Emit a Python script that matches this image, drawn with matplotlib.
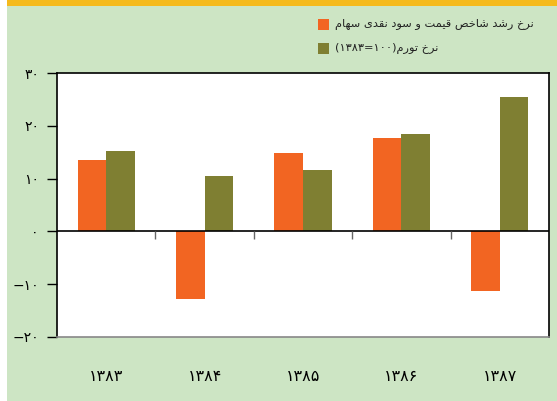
import matplotlib
matplotlib.use("Agg")
import matplotlib.pyplot as plt
from matplotlib.patches import Rectangle
import numpy as np

# data
years = ["۱۳۸۳", "۱۳۸۴", "۱۳۸۵", "۱۳۸۶", "۱۳۸۷"]
stock_growth = [13.6, -12.8, 14.8, 17.6, -11.3]
inflation = [15.2, 10.4, 11.7, 18.4, 25.4]
y_ticks = [-20, -10, 0, 10, 20, 30]
label_stock = "نرخ رشد شاخص قیمت و سود نقدی سهام"
label_infl = "نرخ تورم"
label_infl_base = "(۱۳۸۳=۱۰۰)"

ORANGE = "#F26522"
OLIVE = "#7F7F32"
BG = "#CDE5C4"

# simple arabic shaping (matplotlib has no shaping / bidi)
FORMS = {
    "ا": ("\uFE8D", "\uFE8E", None, None),
    "د": ("\uFEA9", "\uFEAA", None, None),
    "ر": ("\uFEAD", "\uFEAE", None, None),
    "و": ("\uFEED", "\uFEEE", None, None),
    "ن": ("\uFEE5", "\uFEE6", "\uFEE7", "\uFEE8"),
    "خ": ("\uFEA5", "\uFEA6", "\uFEA7", "\uFEA8"),
    "ش": ("\uFEB5", "\uFEB6", "\uFEB7", "\uFEB8"),
    "ص": ("\uFEB9", "\uFEBA", "\uFEBB", "\uFEBC"),
    "ق": ("\uFED5", "\uFED6", "\uFED7", "\uFED8"),
    "ی": ("\uFEEF", "\uFEF0", "\uFEF3", "\uFEF4"),
    "م": ("\uFEE1", "\uFEE2", "\uFEE3", "\uFEE4"),
    "ت": ("\uFE95", "\uFE96", "\uFE97", "\uFE98"),
    "س": ("\uFEB1", "\uFEB2", "\uFEB3", "\uFEB4"),
    "ه": ("\uFEE9", "\uFEEA", "\uFEEB", "\uFEEC"),
}


def shape(text):
    out = []
    for i, c in enumerate(text):
        if c not in FORMS:
            out.append(c)
            continue
        prev = text[i - 1] if i > 0 else ""
        nxt = text[i + 1] if i + 1 < len(text) else ""
        prev_j = prev in FORMS and FORMS[prev][2] is not None
        dual = FORMS[c][2] is not None
        next_j = dual and nxt in FORMS
        iso, fin, ini, med = FORMS[c]
        if prev_j and next_j:
            out.append(med)
        elif prev_j:
            out.append(fin)
        elif next_j:
            out.append(ini)
        else:
            out.append(iso)
    return "".join(out)[::-1]


def fa_num(v):
    digits = "۰۱۲۳۴۵۶۷۸۹"
    s = "".join(digits[int(d)] for d in str(abs(v)))
    return ("\u2212" + s) if v < 0 else s


plt.rcParams["font.family"] = ["DejaVu Sans"]

fig = plt.figure(figsize=(5.57, 4.01), dpi=100, facecolor=BG)
# white strip on the left and yellow band on top
fig.patches.append(Rectangle((0, 0), 7 / 557, 1, transform=fig.transFigure,
                             facecolor="white", edgecolor="none"))
fig.patches.append(Rectangle((7 / 557, 395 / 401), 1, 6 / 401, transform=fig.transFigure,
                             facecolor="#F5BA1D", edgecolor="none"))

ax = fig.add_axes([57 / 557, 64 / 401, 492 / 557, 264 / 401])
x = np.arange(len(years))
w = 0.29
ax.bar(x - w / 2, stock_growth, w, color=ORANGE)
ax.bar(x + w / 2, inflation, w, color=OLIVE)
ax.axhline(0, color="black", lw=1.2)

# separator ticks between groups, hanging from the zero line
ax.plot(x[:-1] + 0.5, np.zeros(len(x) - 1), ls="none", marker=3,
        markersize=6, color="#666666", mew=1)

ax.set_xlim(-0.5, len(years) - 0.5)
ax.set_ylim(-20, 30)
ax.set_yticks(y_ticks)
ax.set_yticklabels([fa_num(v) for v in y_ticks], fontsize=10)
ax.set_xticks(x)
ax.set_xticklabels(years, fontsize=11.5)
ax.tick_params(axis="x", length=0, pad=23)
ax.tick_params(axis="y", length=7, width=1, pad=6, direction="out")

for s in ["left", "top", "right"]:
    ax.spines[s].set_color("black")
    ax.spines[s].set_linewidth(1.2)
ax.spines["bottom"].set_color("#888888")
ax.spines["bottom"].set_linewidth(1.2)

# legend drawn by hand (right-to-left text)
fig.patches.append(Rectangle((318 / 557, 1 - 30 / 401), 11 / 557, 11 / 401,
                             transform=fig.transFigure, facecolor=ORANGE))
fig.patches.append(Rectangle((318 / 557, 1 - 54 / 401), 11 / 557, 11 / 401,
                             transform=fig.transFigure, facecolor=OLIVE))
fig.text(335 / 557, 1 - 24 / 401, shape(label_stock), fontsize=8.2,
         ha="left", va="center", color="#222222")
fig.text(335 / 557, 1 - 48 / 401, label_infl_base + shape(label_infl), fontsize=8.2,
         ha="left", va="center", color="#222222")

fig.savefig("out.png", dpi=100, facecolor=BG)
